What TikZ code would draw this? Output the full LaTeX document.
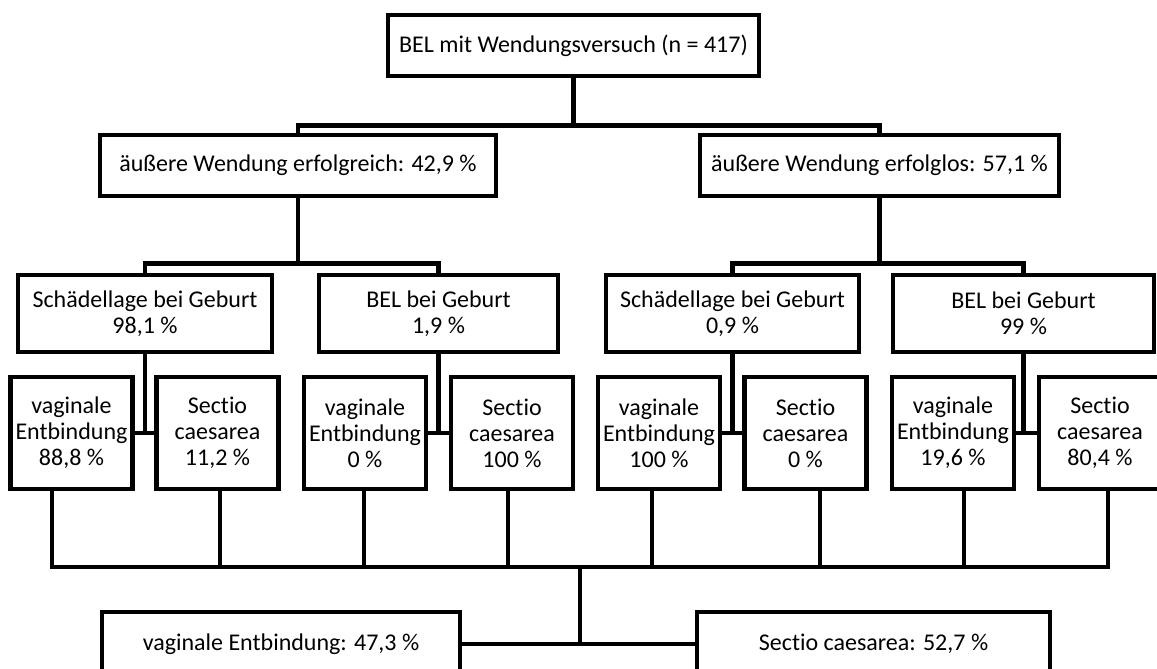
\documentclass[tikz,border=0pt]{standalone}
\usepackage{fontspec}
\setmainfont{Carlito}[Ligatures=NoCommon]

\begin{document}
\begin{tikzpicture}[x=0.75pt,y=-0.75pt,line width=3.5pt,
    box/.style={draw,rectangle,align=center,inner sep=0pt,
      font=\fontsize{18}{19.5}\selectfont},
    wh/.style 2 args={minimum width=#1*0.75pt,minimum height=#2*0.75pt},
    lage/.style={box,wh={#1}{77}},
    modus/.style={box,wh={122}{112}}]
  \useasboundingbox (0,0) rectangle (1157,668);

  % Wendungsversuch
  \node[box,wh={371}{61}] (root) at (573.5,45.5) {BEL mit Wendungsversuch (n = 417)};
  \node[box,wh={396}{61}] (ok)   at (298,165.5)  {äußere Wendung erfolgreich: 42,9 \%};
  \node[box,wh={359}{61}] (fail) at (879.5,165.5) {äußere Wendung erfolglos: 57,1 \%};

  % Lage bei Geburt
  \node[lage=254] (sa) at (145,313.5)    {Schädellage bei Geburt\\98,1 \%};
  \node[lage=239] (ba) at (438.5,313.5)  {BEL bei Geburt\\1,9 \%};
  \node[lage=253] (sb) at (732.5,313.5)  {Schädellage bei Geburt\\0,9 \%};
  \node[lage=261] (bb) at (1023.5,313.5) {BEL bei Geburt\\99 \%};

  % Entbindungsmodus
  \node[modus] (sav) at (71.5,433)  {vaginale\\Entbindung\\88,8 \%};
  \node[modus] (sas) at (217.5,433) {Sectio\\caesarea\\11,2 \%};
  \node[modus] (bav) at (365,433)   {vaginale\\Entbindung\\0 \%};
  \node[modus] (bas) at (512,433)   {Sectio\\caesarea\\100 \%};
  \node[modus] (sbv) at (659,433)   {vaginale\\Entbindung\\100 \%};
  \node[modus] (sbs) at (805.5,433) {Sectio\\caesarea\\0 \%};
  \node[modus] (bbv) at (953,433)   {vaginale\\Entbindung\\19,6 \%};
  \node[modus] (bbs) at (1100,433)  {Sectio\\caesarea\\80,4 \%};

  % gesamt
  \node[box,wh={358}{64}] (vag) at (281,644)   {vaginale Entbindung: 47,3 \%};
  \node[box,wh={353}{64}] (sec) at (873.5,644) {Sectio caesarea: 52,7 \%};

  % Verbindungen
  \draw (root.south) -- ++(0,47) coordinate (j1);
  \draw (ok.north) |- (j1) -| (fail.north);
  \draw (ok.south) -- ++(0,65) coordinate (j2);
  \draw (sa.north) |- (j2) -| (ba.north);
  \draw (fail.south) -- ++(0,65) coordinate (j3);
  \draw (sb.north) |- (j3) -| (bb.north);

  \foreach \l/\v/\s in {sa/sav/sas,ba/bav/bas,sb/sbv/sbs,bb/bbv/bbs}{
    \draw (\l.south) -- (\l.south |- \v.east);
    \draw (\v.east) -- (\s.west);
  }

  \coordinate (d1) at (52,567);
  \coordinate (d8) at (1108,567);
  \draw (sav.south -| d1) -- (d1) -- (d8) -- (bbs.south -| d8);
  \foreach \n/\x in {sas/220,bav/364,bas/508,sbv/652,sbs/820,bbv/964}
    \draw (\n.south -| \x,0) -- (\x,567);

  \coordinate (bus) at (580,567);
  \draw (bus) -- (bus |- vag.east);
  \draw (vag.east) -- (sec.west);
\end{tikzpicture}
\end{document}
